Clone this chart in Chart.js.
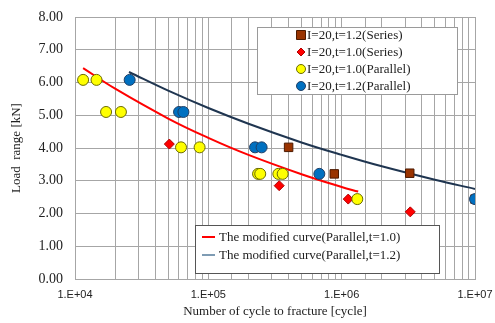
<!DOCTYPE html>
<html>
<head>
<meta charset="utf-8">
<script src="https://cdn.jsdelivr.net/npm/chart.js@4/dist/chart.umd.min.js"></script>
<style>
  html, body { margin: 0; padding: 0; background: #fff; }
  #wrap { width: 495px; height: 323px; }
</style>
</head>
<body>
<div id="wrap"><canvas id="fatigue"></canvas></div>
<script>
// measured points
const brownX = [4.0e5, 8.8e5, 3.24e6, 1.0e7]
const brownY = [4.02, 3.21, 3.23, 2.44]
const redX = [5.1e4, 3.4e5, 1.12e6, 3.27e6]
const redY = [4.12, 2.85, 2.44, 2.05]
const yellowX = [1.15e4, 1.45e4, 1.71e4, 2.21e4, 6.24e4, 8.6e4, 2.36e5, 2.45e5, 3.35e5, 3.61e5, 1.31e6]
const yellowY = [6.08, 6.08, 5.10, 5.10, 4.02, 4.02, 3.21, 3.21, 3.21, 3.21, 2.44]
const blueX = [2.57e4, 6.03e4, 6.5e4, 2.24e5, 2.51e5, 6.8e5, 1.0e7]
const blueY = [6.08, 5.10, 5.10, 4.02, 4.02, 3.21, 2.44]

// modified curves
const curve10X = [1.15e4, 2e4, 5e4, 1e5, 2e5, 5e5, 1e6, 1.33e6]
const curve10Y = [6.44, 5.81, 4.90, 4.31, 3.79, 3.20, 2.81, 2.67]
const curve12X = [2.54e4, 5e4, 1e5, 2e5, 5e5, 1e6, 2e6, 5e6, 1e7]
const curve12Y = [6.32, 5.75, 5.22, 4.74, 4.17, 3.79, 3.44, 3.03, 2.75]

const seriesNames = ['I=20,t=1.2(Series)', 'I=20,t=1.0(Series)', 'I=20,t=1.0(Parallel)', 'I=20,t=1.2(Parallel)']
const curveNames = ['The modified curve(Parallel,t=1.0)', 'The modified curve(Parallel,t=1.2)']
const xTickValues = [1e4, 1e5, 1e6, 1e7]

const pts = (xs, ys) => xs.map((x, i) => ({ x: x, y: ys[i] }))

const serif = '"Liberation Serif", "Times New Roman", serif'
const sans = '"Liberation Sans", Arial, sans-serif'

function drawMarker(ctx, kind, x, y, r) {
  ctx.save()
  ctx.lineWidth = 1
  ctx.beginPath()
  if (kind === 'square') {
    ctx.fillStyle = '#993300'; ctx.strokeStyle = '#4d1a00'
    ctx.rect(x - r, y - r, 2 * r, 2 * r)
  } else if (kind === 'diamond') {
    ctx.fillStyle = '#ff0000'; ctx.strokeStyle = '#b00000'
    ctx.moveTo(x, y - r); ctx.lineTo(x + r, y); ctx.lineTo(x, y + r); ctx.lineTo(x - r, y); ctx.closePath()
  } else if (kind === 'yellow') {
    ctx.fillStyle = '#ffff00'; ctx.strokeStyle = '#6b6b00'
    ctx.arc(x, y, r, 0, Math.PI * 2)
  } else {
    ctx.fillStyle = '#0070c0'; ctx.strokeStyle = '#1f3f66'
    ctx.arc(x, y, r, 0, Math.PI * 2)
  }
  ctx.fill(); ctx.stroke()
  ctx.restore()
}

const legendBoxes = {
  id: 'legendBoxes',
  afterDraw(chart) {
    const ctx = chart.ctx
    ctx.save()
    // markers legend
    ctx.fillStyle = '#fff'; ctx.strokeStyle = '#9a9a9a'; ctx.lineWidth = 1
    ctx.fillRect(257, 27, 200, 67); ctx.strokeRect(257.5, 27.5, 200, 67)
    const kinds = ['square', 'diamond', 'yellow', 'blue']
    const rows = [35, 52, 69, 86]
    ctx.font = '13px ' + serif
    ctx.textBaseline = 'middle'
    kinds.forEach((k, i) => {
      drawMarker(ctx, k, 301, rows[i], k === 'diamond' ? 4 : 4.5)
      ctx.fillStyle = '#222'
      ctx.fillText(seriesNames[i], 307, rows[i] + 1)
    })
    // curves legend
    ctx.fillStyle = '#fff'; ctx.strokeStyle = '#555'
    ctx.fillRect(195, 225, 244, 48); ctx.strokeRect(195.5, 225.5, 244, 48)
    const lineCols = ['#ff0000', '#7f9cb4']
    const lrows = [237, 255]
    lrows.forEach((yy, i) => {
      ctx.strokeStyle = lineCols[i]; ctx.lineWidth = 2
      ctx.beginPath(); ctx.moveTo(202, yy); ctx.lineTo(215, yy); ctx.stroke()
      ctx.fillStyle = '#222'
      ctx.fillText(curveNames[i], 219, yy + 1)
    })
    ctx.restore()
  }
}

const ctx = document.getElementById('fatigue').getContext('2d')

new Chart(ctx, {
  type: 'scatter',
  data: {
    datasets: [
      { label: curveNames[0], data: pts(curve10X, curve10Y), showLine: true, borderColor: '#ff0000', borderWidth: 2, pointRadius: 0, tension: 0.4, order: 5 },
      { label: curveNames[1], data: pts(curve12X, curve12Y), showLine: true, borderColor: '#1f3550', borderWidth: 2, pointRadius: 0, tension: 0.4, order: 6 },
      { label: seriesNames[0], data: pts(brownX, brownY), pointStyle: 'rect', pointRadius: 6, backgroundColor: '#993300', borderColor: '#4d1a00', borderWidth: 1, order: 4 },
      { label: seriesNames[1], data: pts(redX, redY), pointStyle: 'rectRot', pointRadius: 5, backgroundColor: '#ff0000', borderColor: '#b00000', borderWidth: 1, order: 3 },
      { label: seriesNames[2], data: pts(yellowX, yellowY), pointStyle: 'circle', pointRadius: 5.5, backgroundColor: '#ffff00', borderColor: '#6b6b00', borderWidth: 1, order: 2 },
      { label: seriesNames[3], data: pts(blueX, blueY), pointStyle: 'circle', pointRadius: 5.5, backgroundColor: '#0070c0', borderColor: '#1f3f66', borderWidth: 1, order: 1 }
    ]
  },
  options: {
    responsive: true,
    maintainAspectRatio: false,
    animation: false,
    layout: { padding: { top: 17, right: 20, left: 0, bottom: 0 } },
    plugins: { legend: { display: false }, tooltip: { enabled: false } },
    scales: {
      x: {
        type: 'logarithmic',
        min: 1e4,
        max: 1e7,
        afterFit: (s) => { s.height = 44; s.paddingLeft = 0; s.paddingRight = 0 },
        grid: { color: '#a6a6a6', lineWidth: 1, drawTicks: false },
        border: { color: '#a6a6a6' },
        ticks: {
          autoSkip: false,
          maxRotation: 0,
          padding: 9,
          color: '#222',
          font: { family: sans, size: 11 },
          callback: (v) => xTickValues.includes(v) ? '1.E+0' + Math.round(Math.log10(v)) : ''
        },
        title: { display: true, text: 'Number of cycle to fracture [cycle]', color: '#222', font: { family: serif, size: 13 }, padding: { top: 2 } }
      },
      y: {
        min: 0,
        max: 8,
        afterFit: (s) => { s.width = 75; s.paddingTop = 0; s.paddingBottom = 0 },
        grid: { color: '#a6a6a6', lineWidth: 1, drawTicks: false },
        border: { color: '#a6a6a6' },
        ticks: {
          stepSize: 1,
          padding: 12,
          color: '#222',
          font: { family: serif, size: 14 },
          callback: (v) => v.toFixed(2)
        },
        title: { display: true, text: 'Load  range [kN]', color: '#222', font: { family: serif, size: 13 }, padding: { top: 9, bottom: 0 } }
      }
    }
  },
  plugins: [legendBoxes]
})
</script>
</body>
</html>
